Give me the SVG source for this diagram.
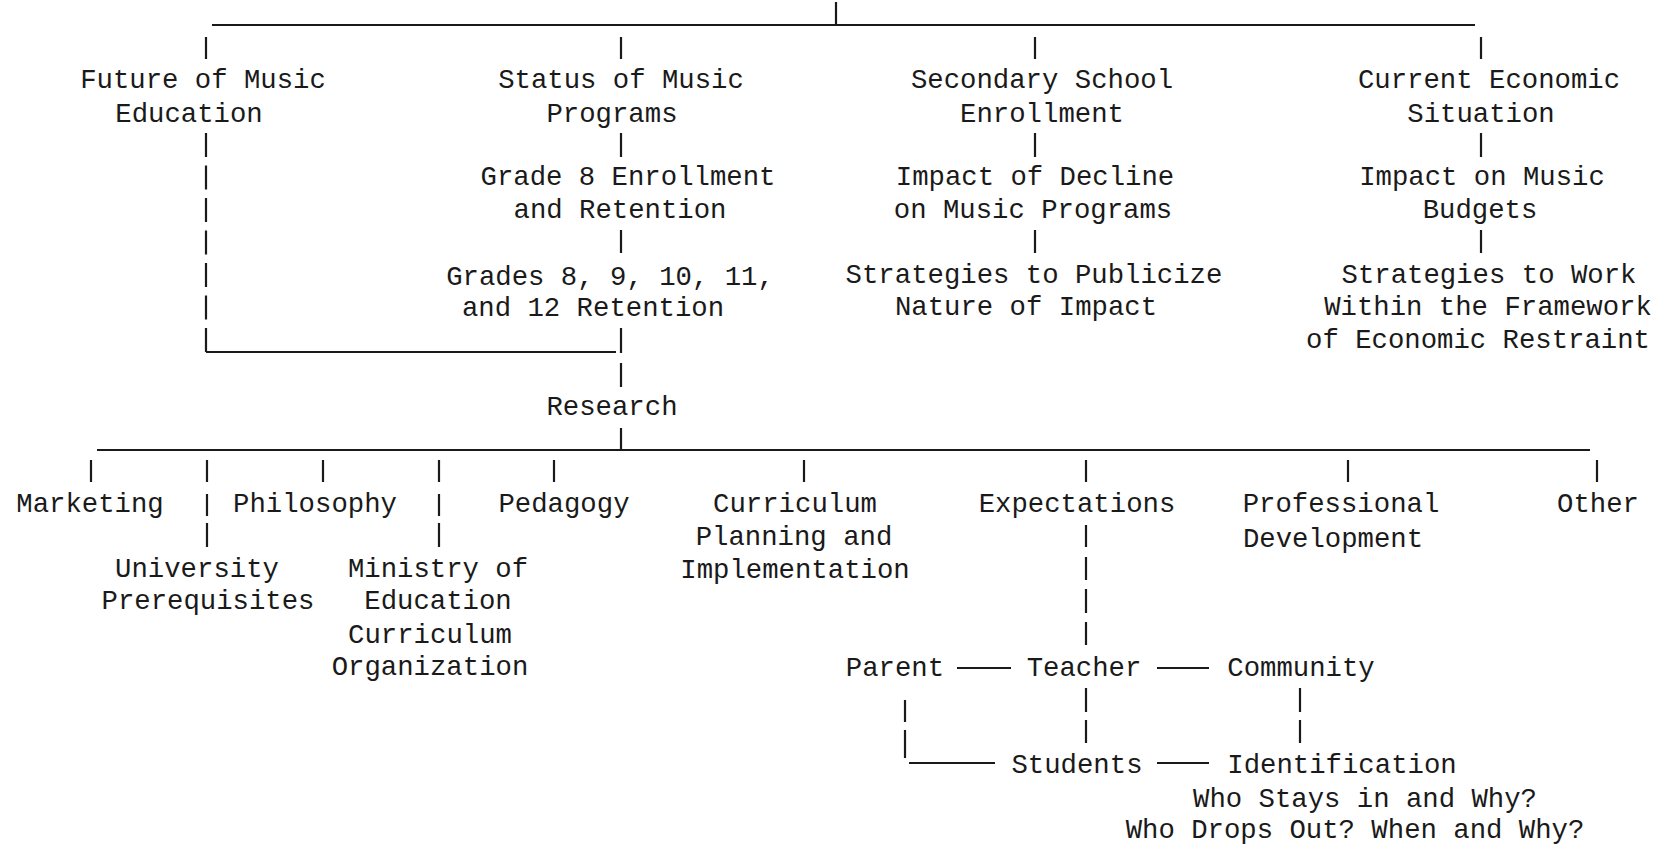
<svg xmlns="http://www.w3.org/2000/svg" width="1666" height="847" viewBox="0 0 1666 847">
<style>
text{font-family:"Liberation Mono","DejaVu Sans Mono",monospace;font-size:27.3px;fill:#1a1a1a;text-anchor:middle}
.c line,.c path{stroke:#1a1a1a;stroke-width:2.2;fill:none}
.c .d{stroke-dasharray:24 8.5}
</style>
<rect width="1666" height="847" fill="#ffffff"/>
<g class="c" id="connectors">
<line x1="836" y1="2" x2="836" y2="25"/>
<line x1="212" y1="25" x2="1475" y2="25"/>
<line x1="206" y1="37" x2="206" y2="59"/>
<line x1="621" y1="37" x2="621" y2="59"/>
<line x1="1035" y1="37" x2="1035" y2="59"/>
<line x1="1481" y1="37" x2="1481" y2="59"/>
<line x1="621" y1="133" x2="621" y2="157"/>
<line x1="621" y1="230" x2="621" y2="253"/>
<line x1="621" y1="328" x2="621" y2="353"/>
<line x1="621" y1="363" x2="621" y2="387"/>
<line class="d" x1="206" y1="133" x2="206" y2="352"/>
<line x1="206" y1="352" x2="616" y2="352"/>
<line x1="1035" y1="133" x2="1035" y2="157"/>
<line x1="1035" y1="230" x2="1035" y2="253"/>
<line x1="1481" y1="133" x2="1481" y2="157"/>
<line x1="1481" y1="230" x2="1481" y2="253"/>
<line x1="621" y1="428" x2="621" y2="450"/>
<line x1="97" y1="450" x2="1590" y2="450"/>
<line x1="91" y1="460" x2="91" y2="482"/>
<line x1="207" y1="460" x2="207" y2="482"/>
<line x1="207" y1="494" x2="207" y2="516"/>
<line x1="207" y1="523" x2="207" y2="547"/>
<line x1="323" y1="460" x2="323" y2="482"/>
<line x1="439" y1="460" x2="439" y2="482"/>
<line x1="439" y1="494" x2="439" y2="516"/>
<line x1="439" y1="523" x2="439" y2="547"/>
<line x1="554" y1="460" x2="554" y2="482"/>
<line x1="804" y1="460" x2="804" y2="482"/>
<line x1="1086" y1="460" x2="1086" y2="482"/>
<line x1="1348" y1="460" x2="1348" y2="482"/>
<line x1="1597" y1="460" x2="1597" y2="482"/>
<line x1="1086" y1="525" x2="1086" y2="547"/>
<line x1="1086" y1="557" x2="1086" y2="580"/>
<line x1="1086" y1="589" x2="1086" y2="613"/>
<line x1="1086" y1="622" x2="1086" y2="645"/>
<line x1="957" y1="668" x2="1011" y2="668"/>
<line x1="1157" y1="668" x2="1209" y2="668"/>
<line x1="905" y1="700" x2="905" y2="722"/>
<line x1="905" y1="730" x2="905" y2="758"/>
<line x1="909" y1="763" x2="995" y2="763"/>
<line x1="1086" y1="688" x2="1086" y2="712"/>
<line x1="1086" y1="720" x2="1086" y2="743"/>
<line x1="1300" y1="688" x2="1300" y2="712"/>
<line x1="1300" y1="720" x2="1300" y2="743"/>
<line x1="1157" y1="763" x2="1209" y2="763"/>
</g>
<g id="future"><text x="203" y="88">Future of Music</text><text x="189" y="122">Education</text></g>
<g id="status"><text x="621" y="88">Status of Music</text><text x="612" y="122">Programs</text></g>
<g id="grade8"><text x="628" y="185">Grade 8 Enrollment</text><text x="620" y="218">and Retention</text></g>
<g id="grades"><text x="610" y="285">Grades 8, 9, 10, 11,</text><text x="593" y="316">and 12 Retention</text></g>
<g id="research"><text x="612" y="415">Research</text></g>
<g id="secondary"><text x="1042" y="88">Secondary School</text><text x="1042" y="122">Enrollment</text></g>
<g id="impactdecline"><text x="1035" y="185">Impact of Decline</text><text x="1033" y="218">on Music Programs</text></g>
<g id="publicize"><text x="1034" y="283">Strategies to Publicize</text><text x="1026" y="315">Nature of Impact</text></g>
<g id="economic"><text x="1489" y="88">Current Economic</text><text x="1481" y="122">Situation</text></g>
<g id="budgets"><text x="1482" y="185">Impact on Music</text><text x="1480" y="218">Budgets</text></g>
<g id="work"><text x="1489" y="283">Strategies to Work</text><text x="1488" y="315">Within the Framework</text><text x="1478" y="348">of Economic Restraint</text></g>
<g id="marketing"><text x="90" y="512">Marketing</text></g>
<g id="philosophy"><text x="315" y="512">Philosophy</text></g>
<g id="pedagogy"><text x="564" y="512">Pedagogy</text></g>
<g id="curriculum"><text x="795" y="512">Curriculum</text><text x="794" y="545">Planning and</text><text x="795" y="578">Implementation</text></g>
<g id="university"><text x="197" y="577">University</text><text x="208" y="609">Prerequisites</text></g>
<g id="ministry"><text x="438" y="577">Ministry of</text><text x="438" y="609">Education</text><text x="430" y="643">Curriculum</text><text x="430" y="675">Organization</text></g>
<g id="expectations"><text x="1077" y="512">Expectations</text></g>
<g id="professional"><text x="1341" y="512">Professional</text><text x="1333" y="547">Development</text></g>
<g id="other"><text x="1598" y="512">Other</text></g>
<g id="parent"><text x="895" y="676">Parent</text></g>
<g id="teacher"><text x="1084" y="676">Teacher</text></g>
<g id="community"><text x="1301" y="676">Community</text></g>
<g id="students"><text x="1077" y="773">Students</text></g>
<g id="identification"><text x="1342" y="773">Identification</text><text x="1365" y="807">Who Stays in and Why?</text><text x="1355" y="838">Who Drops Out? When and Why?</text></g>
</svg>
